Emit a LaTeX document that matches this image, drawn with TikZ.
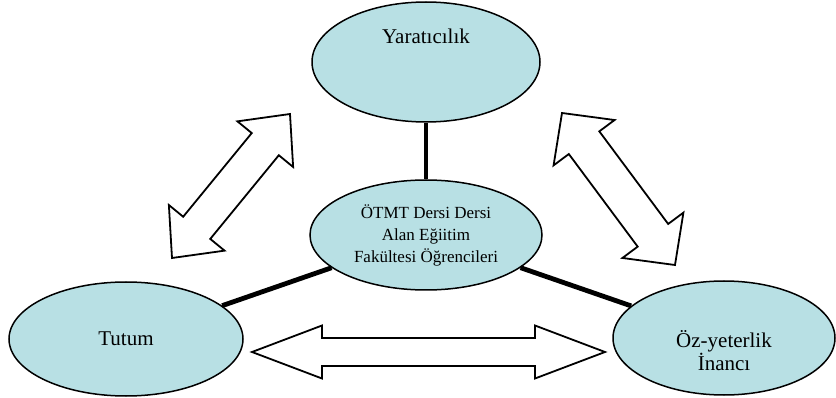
\documentclass[tikz,border=0pt]{standalone}
\usepackage{fontspec}
\setmainfont{Liberation Serif}
\usetikzlibrary{shapes.geometric,calc}

\definecolor{bubblefill}{RGB}{184,224,228}

\tikzset{
  bubble/.style={ellipse, draw=black, line width=1.5pt, fill=bubblefill,
    inner sep=0pt, align=center},
  link/.style={line width=4.8pt, black},
  arrowbody/.style={draw=black, line width=1.8pt, fill=white, line join=miter},
  outertext/.style={font=\fontsize{21}{23}\selectfont, align=center},
  innertext/.style={font=\fontsize{17}{22}\selectfont, align=center},
}

% hollow two-headed block arrow between tips #1 and #2:
% #3 half shaft width, #4 half head width, #5 head length
\newcommand\twowayarrow[5]{%
  \draw[arrowbody] (#1)
    -- ($(#1)!#5!(#2)!#4!90:(#2)$)
    -- ($(#1)!#5!(#2)!#3!90:(#2)$)
    -- ($(#2)!#5!(#1)!#3!-90:(#1)$)
    -- ($(#2)!#5!(#1)!#4!-90:(#1)$)
    -- (#2)
    -- ($(#2)!#5!(#1)!#4!90:(#1)$)
    -- ($(#2)!#5!(#1)!#3!90:(#1)$)
    -- ($(#1)!#5!(#2)!#3!-90:(#2)$)
    -- ($(#1)!#5!(#2)!#4!-90:(#2)$)
    -- cycle;}

\begin{document}
\begin{tikzpicture}[x=1pt, y=-1pt]
  \useasboundingbox (0,0) rectangle (836,398);

  % ellipses
  \node[bubble, minimum width=228pt, minimum height=120pt] (yar) at (426,62) {};
  \node[outertext] (yartext) at (426,36) {Yaratıcılık};
  \node[bubble, minimum width=232pt, minimum height=110pt, innertext] (mid) at (426,235)
    {ÖTMT Dersi Dersi\\Alan Eğiitim\\Fakültesi Öğrencileri};
  \node[bubble, minimum width=234pt, minimum height=114pt, outertext] (tut) at (126,339) {Tutum};
  \node[bubble, minimum width=222pt, minimum height=114pt] (oz) at (724,338) {};
  \node[outertext] (oztext) at (724,351) {Öz-yeterlik\\İnancı};

  % spokes from the centre
  \draw[link] (mid) -- (yar);
  \draw[link] (mid) -- (tut);
  \draw[link] (mid) -- (oz);

  % block arrow tips
  \coordinate (la) at (172,258);
  \coordinate (lb) at (290,114);
  \coordinate (ra) at (562,113);
  \coordinate (rb) at (675,265);
  \coordinate (ha) at (252,352);
  \coordinate (hb) at (605,352);

  \twowayarrow{la}{lb}{17.5pt}{36pt}{39pt}
  \twowayarrow{ra}{rb}{19pt}{38pt}{37pt}
  \twowayarrow{ha}{hb}{14pt}{26.5pt}{70pt}
\end{tikzpicture}
\end{document}
